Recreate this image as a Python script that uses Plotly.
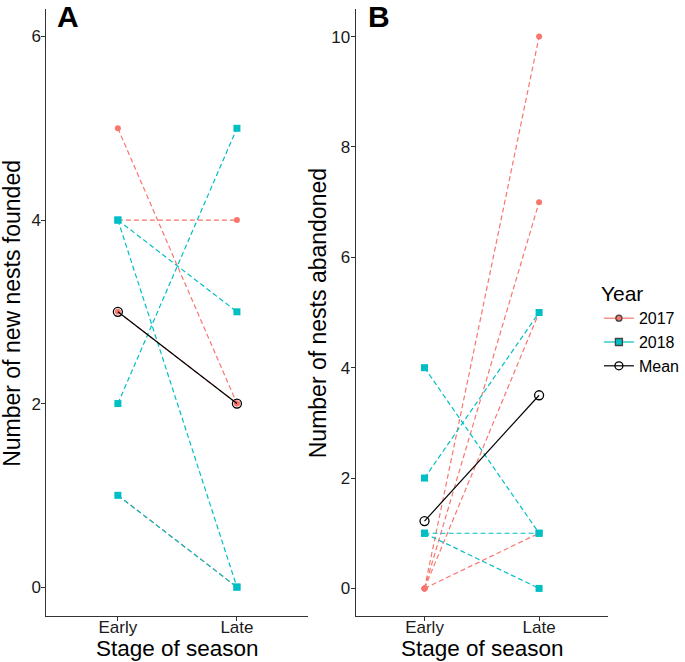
import plotly.graph_objects as go

# ---- data ----
stages = ["Early", "Late"]

# Panel A: number of new nests founded
a_2017_early = [5, 4, 3, 1]
a_2017_late = [2, 4, 2, 0]
a_2018_early = [4, 4, 2, 1]
a_2018_late = [3, 0, 5, 0]
a_mean = [3, 2]

# Panel B: number of nests abandoned
b_2017_early = [0, 0, 0, 0]
b_2017_late = [10, 7, 5, 1]
b_2018_early = [4, 2, 1, 1]
b_2018_late = [1, 5, 1, 0]
b_mean = [1.22, 3.5]

y_ticks_a = [0, 2, 4, 6]
y_ticks_b = [0, 2, 4, 6, 8, 10]

RED = "#F8766D"
CYAN = "#00BFC4"
FONT = "Liberation Sans, Arial, sans-serif"


def pairs(early, late):
    xs, ys = [], []
    for e, l in zip(early, late):
        xs += [stages[0], stages[1], None]
        ys += [e, l, None]
    return xs, ys


fig = go.Figure()

panels = [
    ("x", "y", a_2017_early, a_2017_late, a_2018_early, a_2018_late, a_mean),
    ("x2", "y2", b_2017_early, b_2017_late, b_2018_early, b_2018_late, b_mean),
]

for xa, ya, r_e, r_l, c_e, c_l, mean in panels:
    xs, ys = pairs(r_e, r_l)
    fig.add_trace(go.Scatter(
        x=xs, y=ys, xaxis=xa, yaxis=ya, mode="lines+markers", showlegend=False,
        line=dict(color=RED, width=1.2, dash="5px,3px"),
        marker=dict(color=RED, size=6, symbol="circle"), cliponaxis=False))
    xs, ys = pairs(c_e, c_l)
    fig.add_trace(go.Scatter(
        x=xs, y=ys, xaxis=xa, yaxis=ya, mode="lines+markers", showlegend=False,
        line=dict(color=CYAN, width=1.2, dash="5px,3px"),
        marker=dict(color=CYAN, size=7, symbol="square"), cliponaxis=False))
    fig.add_trace(go.Scatter(
        x=stages, y=mean, xaxis=xa, yaxis=ya, mode="lines+markers", showlegend=False,
        line=dict(color="black", width=1.2),
        marker=dict(color="black", size=9, symbol="circle-open", line=dict(width=1.3)),
        cliponaxis=False))

# legend entries
for name, col, sym, sz in [("2017", RED, "circle", 6), ("2018", CYAN, "square", 7),
                           ("Mean", "black", "circle-open", 8)]:
    fig.add_trace(go.Scatter(
        x=[None], y=[None], mode="lines+markers", name=name,
        line=dict(color=col, width=1.2),
        marker=dict(color=col, size=sz, symbol=sym, line=dict(width=1.3))))

W, H = 685, 662
ax_common = dict(
    showline=True, linecolor="#333333", linewidth=1.3,
    ticks="outside", ticklen=4, tickcolor="#333333", tickwidth=1.2,
    showgrid=False, zeroline=False,
    tickfont=dict(family=FONT, size=17, color="#1a1a1a"),
)
x_extra = dict(ticklabelstandoff=-9)
y_extra = dict(ticklabelstandoff=-3)
ydom = [1 - 616 / H, 1 - 9 / H]

fig.update_layout(
    width=W, height=H,
    margin=dict(l=0, r=0, t=0, b=0),
    paper_bgcolor="white", plot_bgcolor="white",
    font=dict(family=FONT, color="black"),
    xaxis=dict(domain=[47 / W, 312 / W], anchor="y", type="category",
               categoryorder="array", categoryarray=stages,
               range=[-0.6, 1.6], **ax_common, **x_extra),
    yaxis=dict(domain=ydom, anchor="x", range=[-0.315, 6.3],
               tickvals=y_ticks_a, **ax_common, **y_extra),
    xaxis2=dict(domain=[360 / W, 615 / W], anchor="y2", type="category",
                categoryorder="array", categoryarray=stages,
                range=[-0.6, 1.6], **ax_common, **x_extra),
    yaxis2=dict(domain=ydom, anchor="x2", range=[-0.5, 10.5],
                tickvals=y_ticks_b, **ax_common, **y_extra),
    legend=dict(
        x=606 / W, y=1 - 274 / H, xanchor="left", yanchor="top",
        title=dict(text="Year", font=dict(family=FONT, size=21, color="black")),
        font=dict(family=FONT, size=16, color="black"),
        tracegroupgap=0, itemwidth=30, bgcolor="rgba(0,0,0,0)",
    ),
)

annots = [
    dict(text="<b>A</b>", x=69 / W, y=1 - 17 / H, font=dict(size=30)),
    dict(text="<b>B</b>", x=383 / W, y=1 - 17 / H, font=dict(size=30)),
    dict(text="Number of new nests founded", x=12 / W, y=1 - 313 / H,
         textangle=-90, font=dict(size=23)),
    dict(text="Number of nests abandoned", x=322 / W, y=1 - 313 / H,
         textangle=-90, font=dict(size=23)),
]
for a in annots:
    a["font"] = dict(family=FONT, color="black", **a["font"])
    fig.add_annotation(xref="paper", yref="paper", showarrow=False,
                       xanchor="center", yanchor="middle", **a)
for xc in (180, 488):
    fig.add_annotation(xref="paper", yref="paper", showarrow=False,
                       text="Stage of season", x=xc / W, y=0,
                       xanchor="center", yanchor="bottom", borderpad=0,
                       font=dict(family=FONT, color="black", size=22.5))

fig.write_html(
    "out.html",
    config={"displayModeBar": False},
    post_script="document.body.style.margin='0';document.body.style.padding='0';",
)
